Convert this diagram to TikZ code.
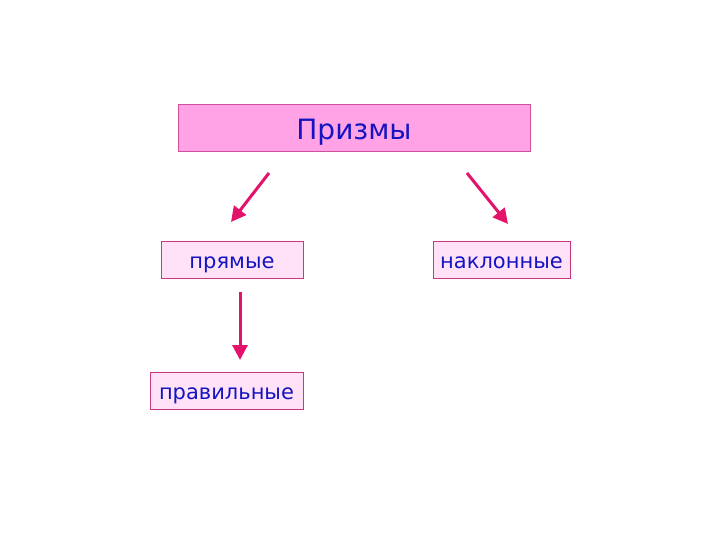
\documentclass[tikz,border=0pt]{standalone}
\usepackage{fontspec}
\setmainfont{DejaVu Sans}
\usetikzlibrary{arrows.meta}
\definecolor{topfill}{HTML}{FFA3E6}
\definecolor{topdraw}{HTML}{D0509A}
\definecolor{subfill}{HTML}{FFE2F8}
\definecolor{subdraw}{HTML}{C8387A}
\definecolor{txtblue}{HTML}{1414C0}
\definecolor{arrowcol}{HTML}{E3136B}
\tikzset{
  topbox/.style={draw=topdraw, fill=topfill, line width=1pt, minimum width=352pt, minimum height=47pt, inner sep=0pt, text height=24pt, text depth=2pt, text=txtblue, font=\fontsize{28}{32}\selectfont},
  subbox/.style={draw=subdraw, fill=subfill, line width=0.8pt, minimum height=37pt, inner sep=0pt, text height=20pt, text depth=3pt, text=txtblue, font=\fontsize{21}{25}\selectfont},
  arr/.style={draw=arrowcol, line width=3pt, -{Triangle[length=15pt,width=15pt]}}
}
\begin{document}
\begin{tikzpicture}[x=1pt,y=-1pt]
\useasboundingbox (0,0) rectangle (720,540);
\node[topbox] (prizmy) at (354,128.5) {Призмы};
\node[subbox, minimum width=142pt] (pryamye) at (232,259.5) {прямые};
\node[subbox, minimum width=137pt] (naklon) at (501.5,259.5) {наклонные};
\node[subbox, minimum width=153pt] (prav) at (226.5,391) {правильные};
\coordinate (a1s) at (269,173);
\coordinate (a1e) at (231,222);
\coordinate (a2s) at (467,173);
\coordinate (a2e) at (508,224);
\coordinate (a3s) at (240,292);
\coordinate (a3e) at (240,360);
\draw[arr] (a1s) -- (a1e);
\draw[arr] (a2s) -- (a2e);
\draw[arr] (a3s) -- (a3e);
\end{tikzpicture}
\end{document}
